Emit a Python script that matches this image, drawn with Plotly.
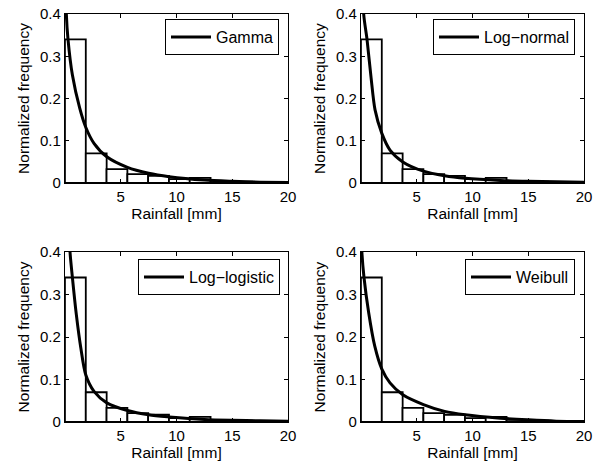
import plotly.graph_objects as go

# ---- data ----
bin_centers = [0.93, 2.80, 4.66, 6.53, 8.39, 10.26, 12.12, 13.99, 15.85, 17.72, 19.58]
freq = [0.340, 0.070, 0.033, 0.021, 0.017, 0.009, 0.012, 0.005, 0.003, 0.002, 0.001]

dist_names = ["Gamma", "Log\u2212normal", "Log\u2212logistic", "Weibull"]

gamma_x = [0.05, 0.12, 0.27, 0.66, 1.32, 1.86, 2.6, 3.75, 5.6, 7.5, 9.35, 12.5, 15, 17.5, 20]
gamma_y = [0.55, 0.40, 0.34, 0.256, 0.177, 0.132, 0.094, 0.062, 0.037, 0.023, 0.015, 0.007, 0.004, 0.002, 0.001]

lognorm_x = [0.12, 0.24, 0.54, 0.9, 1.26, 1.86, 2.6, 3.75, 5.6, 7.5, 9.35, 12.5, 15, 17.5, 20]
lognorm_y = [0.55, 0.40, 0.34, 0.25, 0.173, 0.118, 0.078, 0.050, 0.028, 0.017, 0.011, 0.006, 0.004, 0.003, 0.002]

loglog_x = [0.3, 0.45, 0.66, 1.02, 1.42, 1.86, 2.6, 3.75, 5.6, 7.5, 9.35, 12.5, 15, 17.5, 20]
loglog_y = [0.50, 0.40, 0.341, 0.252, 0.174, 0.111, 0.072, 0.045, 0.027, 0.017, 0.012, 0.006, 0.004, 0.003, 0.002]

weib_x = [0.02, 0.08, 0.27, 0.69, 1.23, 1.86, 2.6, 3.75, 5.6, 7.5, 9.35, 12.5, 15, 17.5, 20]
weib_y = [0.50, 0.40, 0.34, 0.257, 0.179, 0.125, 0.092, 0.064, 0.041, 0.025, 0.017, 0.009, 0.005, 0.002, 0.001]

curves_x = [gamma_x, lognorm_x, loglog_x, weib_x]
curves_y = [gamma_y, lognorm_y, loglog_y, weib_y]

x_ticks = [5, 10, 15, 20]
y_ticks = [0, 0.1, 0.2, 0.3, 0.4]
y_tick_labels = ["0", "0.1", "0.2", "0.3", "0.4"]
x_range = [0, 20]
y_range = [0, 0.4]

x_title = "Rainfall [mm]"
y_title = "Normalized frequency"

# ---- layout geometry (pixels in the 596x466 window) ----
W, H = 596, 466
panels = [  # (left, right, top, bottom)
    (65, 288, 14, 183),
    (361, 584, 14, 183),
    (65, 288, 252, 422),
    (361, 584, 252, 422),
]
legend_pos = [(279, 19), (575, 19), (280, 259), (575, 259)]

FONT = "Liberation Sans, Arial, sans-serif"
bar_width = bin_centers[1] - bin_centers[0]

fig = go.Figure()
layout = dict(
    width=W, height=H,
    margin=dict(l=0, r=0, t=0, b=0),
    paper_bgcolor="white", plot_bgcolor="white",
    font=dict(family=FONT, size=15, color="black"),
    showlegend=True,
)

for i in range(4):
    n = "" if i == 0 else str(i + 1)
    xa, ya = "x" + n, "y" + n
    fig.add_trace(go.Bar(
        x=bin_centers, y=freq, width=bar_width,
        marker=dict(color="white", line=dict(color="black", width=1.8)),
        xaxis=xa, yaxis=ya, showlegend=False, hoverinfo="skip",
    ))
    fig.add_trace(go.Scatter(
        x=curves_x[i], y=curves_y[i], mode="lines",
        line=dict(color="black", width=3, shape="spline", smoothing=0.8),
        name=dist_names[i], xaxis=xa, yaxis=ya,
        legend="legend" + n,
    ))
    l, r, t, b = panels[i]
    common = dict(
        showline=True, linecolor="black", linewidth=1.2, mirror="ticks",
        ticks="inside", ticklen=4, tickcolor="black", tickwidth=1,
        showgrid=False, zeroline=False, automargin=False,
        tickfont=dict(family=FONT, size=15, color="black"),
    )
    layout["xaxis" + n] = dict(
        common, domain=[l / W, r / W], anchor=ya, range=x_range,
        tickvals=x_ticks, ticktext=[str(v) for v in x_ticks],
        title=dict(text=x_title, font=dict(family=FONT, size=15.5), standoff=2),
    )
    layout["yaxis" + n] = dict(
        common, domain=[1 - b / H, 1 - t / H], anchor=xa, range=y_range,
        tickvals=y_ticks, ticktext=y_tick_labels,
        title=dict(text=y_title, font=dict(family=FONT, size=15.5), standoff=6),
    )
    lx, ly = legend_pos[i]
    layout["legend" + n] = dict(
        x=lx / W, y=1 - ly / H, xanchor="right", yanchor="top",
        xref="paper", yref="paper",
        bgcolor="white", bordercolor="black", borderwidth=1,
        font=dict(family=FONT, size=16, color="black"),
        itemwidth=40,
    )

layout["barmode"] = "overlay"
fig.update_layout(**layout)
fig.write_html(
    "out.html",
    config={"displayModeBar": False},
    post_script="document.body.style.margin='0';document.body.style.overflow='hidden';",
)
